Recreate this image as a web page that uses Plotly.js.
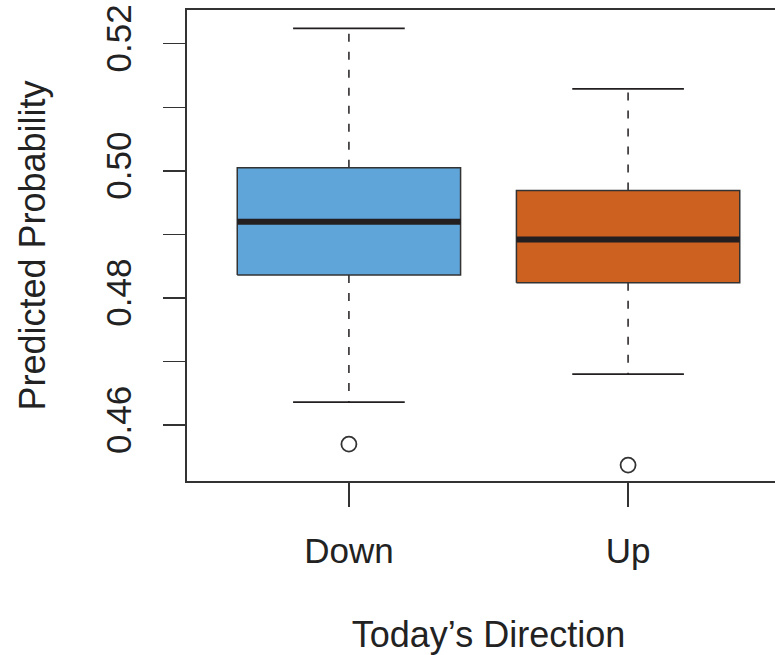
<!DOCTYPE html>
<html>
<head>
<meta charset="utf-8">
<script src="https://cdn.plot.ly/plotly-3.0.1.min.js"></script>
<style>
html,body{margin:0;padding:0;overflow:hidden;background:#fff;}
#chart{width:800px;height:655px;}
</style>
</head>
<body>
<div id="chart"></div>
<script>
// Data
const categories = ["Down", "Up"];
const lowerWhisker = [0.4636, 0.4680];
const q1 = [0.4836, 0.4824];
const median = [0.4920, 0.4892];
const q3 = [0.5005, 0.4969];
const upperWhisker = [0.5224, 0.5129];
const outliers = [[0.4570], [0.4537]];
const boxColors = ["#5fa5d9", "#cd6120"];

const halfW = 0.4;
const capW = 0.2;
const ink = "#231f20";
const traces = [];

categories.forEach((c, i) => {
  // dashed whiskers
  traces.push({x:[i,i], y:[q3[i], upperWhisker[i]], mode:"lines", line:{color:ink, width:1.5, dash:"8px,10px"}, hoverinfo:"skip", showlegend:false});
  traces.push({x:[i,i], y:[q1[i], lowerWhisker[i]], mode:"lines", line:{color:ink, width:1.5, dash:"8px,10px"}, hoverinfo:"skip", showlegend:false});
  // caps
  traces.push({x:[i-capW, i+capW], y:[upperWhisker[i], upperWhisker[i]], mode:"lines", line:{color:ink, width:1.8}, hoverinfo:"skip", showlegend:false});
  traces.push({x:[i-capW, i+capW], y:[lowerWhisker[i], lowerWhisker[i]], mode:"lines", line:{color:ink, width:1.8}, hoverinfo:"skip", showlegend:false});
  // box
  traces.push({x:[i-halfW, i+halfW, i+halfW, i-halfW, i-halfW], y:[q1[i], q1[i], q3[i], q3[i], q1[i]],
    mode:"lines", fill:"toself", fillcolor:boxColors[i], line:{color:"#333", width:1.5}, hoverinfo:"skip", showlegend:false});
  // median
  traces.push({x:[i-halfW, i+halfW], y:[median[i], median[i]], mode:"lines", line:{color:ink, width:6}, hoverinfo:"skip", showlegend:false});
  // outliers
  traces.push({x:outliers[i].map(() => i), y:outliers[i], mode:"markers",
    marker:{symbol:"circle-open", size:15, color:"#333", line:{width:1.8}}, hoverinfo:"skip", showlegend:false});
});

const font = "Liberation Sans, Arial, Helvetica, sans-serif";
const layout = {
  width:800, height:655,
  margin:{l:187, r:10, t:10, b:174},
  paper_bgcolor:"#fff", plot_bgcolor:"#fff",
  font:{family:font, color:"#222"},
  showlegend:false,
  xaxis:{
    range:[-0.58, 1.58], tickmode:"array", tickvals:categories.map((c,i)=>i), ticktext:categories,
    ticks:"outside", ticklen:24, tickwidth:1.5, tickcolor:"#333",
    showline:true, mirror:true, linecolor:"#333", linewidth:1.8,
    showgrid:false, zeroline:false,
    tickfont:{size:35, family:font, color:"#222"},
    ticklabelstandoff:14,
    title:{text:"Today\u2019s Direction", font:{size:36, family:font, color:"#222"}, standoff:55}
  },
  yaxis:{
    range:[0.4512, 0.5253], tick0:0.46, dtick:0.02, tickformat:".2f",
    ticks:"outside", ticklen:22, tickwidth:1.5, tickcolor:"#333",
    minor:{dtick:0.01, tick0:0.46, ticks:"outside", ticklen:22, tickwidth:1.5, tickcolor:"#333", showgrid:false},
    tickangle:-90,
    showline:true, mirror:true, linecolor:"#333", linewidth:1.8,
    showgrid:false, zeroline:false,
    tickfont:{size:35, family:font, color:"#222"},
    ticklabelstandoff:18,
    title:{text:"Predicted Probability", font:{size:36, family:font, color:"#222"}, standoff:43}
  }
};

Plotly.newPlot("chart", traces, layout, {displayModeBar:false, staticPlot:true});
</script>
</body>
</html>
